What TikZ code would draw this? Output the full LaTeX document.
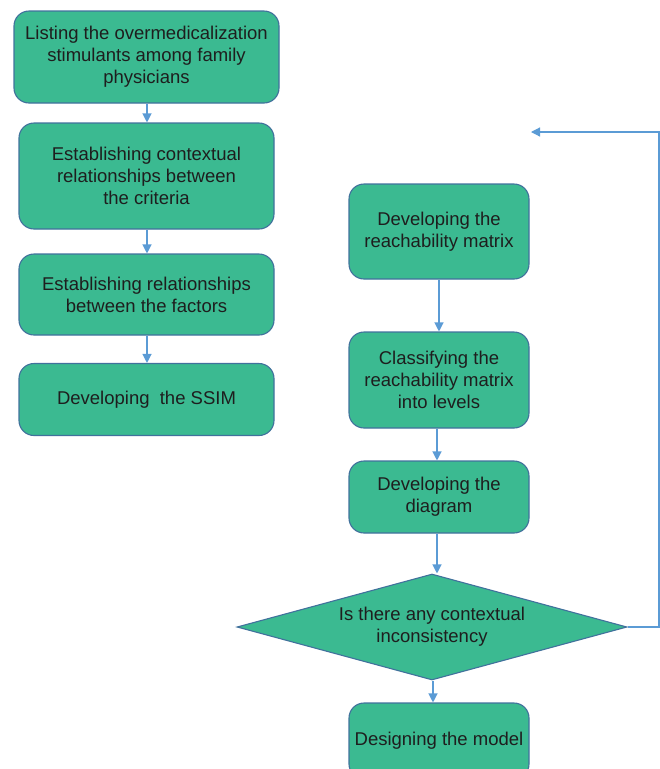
\documentclass[tikz,border=0pt]{standalone}
\usepackage{fontspec}
\setmainfont{Liberation Sans}
\usetikzlibrary{shapes.geometric,arrows.meta}
\definecolor{boxfill}{HTML}{3BBA91}
\definecolor{boxline}{HTML}{41719C}
\definecolor{arrowc}{HTML}{5B9BD5}
\definecolor{txt}{HTML}{1E1E1E}
\begin{document}
\begin{tikzpicture}[x=1pt,y=-1pt,
  procbox/.style={draw=boxline,fill=boxfill,line width=1.1pt,rounded corners=15pt,
    align=center,text=txt,inner sep=0pt,
    font=\fontsize{18.5}{22}\selectfont},
  decbox/.style={diamond,draw=boxline,fill=boxfill,line width=1.1pt,aspect=3.68,
    minimum width=390pt,minimum height=106pt,inner sep=0pt,align=center,text=txt,
    font=\fontsize{18.5}{22}\selectfont},
  flow/.style={draw=arrowc,line width=1.2pt,-{Triangle[width=9pt,length=9pt]}}]
\useasboundingbox (0,0) rectangle (660,769);
\node[procbox,minimum width=265pt,minimum height=92pt] (b1) at (146.5,57)
  {Listing the overmedicalization\\stimulants among family\\physicians};
\node[procbox,minimum width=255pt,minimum height=106pt] (b2) at (146.5,176)
  {Establishing contextual\\relationships between\\the criteria};
\node[procbox,minimum width=255pt,minimum height=81pt] (b3) at (146.5,294.5)
  {Establishing relationships\\between the factors};
\node[procbox,minimum width=255pt,minimum height=72pt] (b4) at (146.5,399.5)
  {Developing\ \ the SSIM};
\node[procbox,minimum width=180pt,minimum height=95pt] (b5) at (439,231.5)
  {Developing the\\reachability matrix};
\node[procbox,minimum width=180pt,minimum height=96pt] (b6) at (439,380)
  {Classifying the\\reachability matrix\\into levels};
\node[procbox,minimum width=180pt,minimum height=72pt] (b7) at (439,497)
  {Developing the\\diagram};
\node[decbox] (d1) at (432,627) {Is there any contextual\\inconsistency};
\node[procbox,minimum width=180pt,minimum height=76pt] (b8) at (439,741)
  {\raisebox{2pt}{Designing the model}};
\coordinate (corner) at (659,627);
\coordinate (fbend) at (531,132);
\draw[flow] (b1.south -| 147,0) -- (b2.north -| 147,0);
\draw[flow] (b2.south -| 147,0) -- (b3.north -| 147,0);
\draw[flow] (b3.south -| 147,0) -- (b4.north -| 147,0);
\draw[flow] (b5.south) -- (b6.north);
\draw[flow] (b6.south -| 437,0) -- (b7.north -| 437,0);
\draw[flow] (b7.south -| 437,0) -- (d1.north -| 437,0);
\draw[flow] (d1.south -| 433,0) -- (b8.north -| 433,0);
\draw[flow] (d1.east) -- (corner) |- (fbend);
\end{tikzpicture}
\end{document}
